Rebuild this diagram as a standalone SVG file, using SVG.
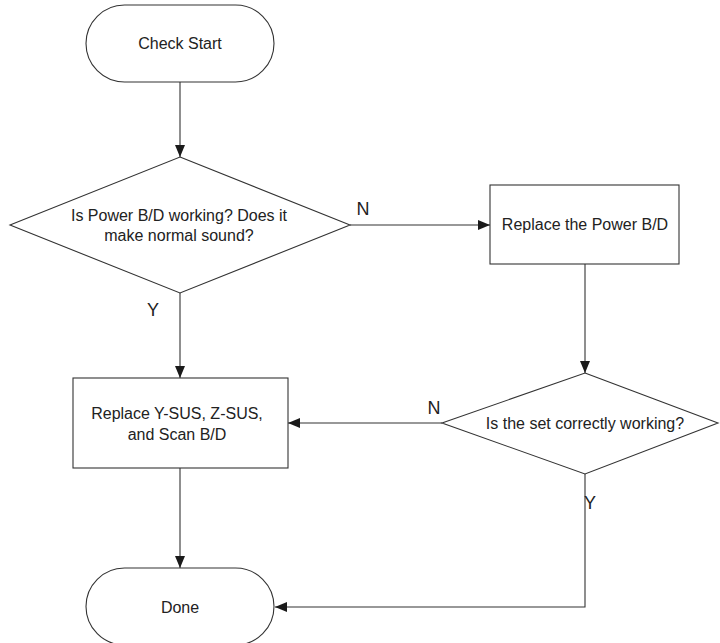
<svg xmlns="http://www.w3.org/2000/svg" width="720" height="643" viewBox="0 0 720 643">
<defs>
<marker id="arr" viewBox="0 0 12 10" refX="12" refY="5" markerWidth="12" markerHeight="10" markerUnits="userSpaceOnUse" orient="auto">
<path d="M0,0 L12,5 L0,10 Z" fill="#1a1a1a"/>
</marker>
<style>
.shape{fill:#fff;stroke:#333;stroke-width:1.1}
.conn{fill:none;stroke:#333;stroke-width:1.1;marker-end:url(#arr)}
.t{font-family:"Liberation Sans",Arial,sans-serif;font-size:16px;fill:#222;text-anchor:middle}
.lbl{font-family:"Liberation Sans",Arial,sans-serif;font-size:18px;fill:#222;text-anchor:middle}
</style>
</defs>
<rect width="720" height="643" fill="#fff"/>
<g id="connectors">
<path class="conn" d="M180,82 L180,157"/>
<path class="conn" d="M350,225 L490,225"/>
<path class="conn" d="M585,264 L585,373"/>
<path class="conn" d="M180,293 L180,378"/>
<path class="conn" d="M442,423 L288,423"/>
<path class="conn" d="M180,468 L180,568"/>
<path class="conn" d="M585,474 L585,607 L275,607"/>
<text class="lbl" x="363" y="215">N</text>
<text class="lbl" x="153" y="316">Y</text>
<text class="lbl" x="434" y="414">N</text>
<text class="lbl" x="590" y="509">Y</text>
</g>
<g id="start">
<rect class="shape" x="86" y="5" width="188" height="77" rx="38.5"/>
<text class="t" x="180" y="49">Check Start</text>
</g>
<g id="decision1">
<polygon class="shape" points="180,157 350,225 180,293 10,225"/>
<text class="t" x="179" y="221">Is Power B/D working? Does it</text>
<text class="t" x="179" y="241">make normal sound?</text>
</g>
<g id="replacePower">
<rect class="shape" x="490" y="185" width="189" height="79"/>
<text class="t" x="585" y="230">Replace the Power B/D</text>
</g>
<g id="decision2">
<polygon class="shape" points="585,373 718,423 585,474 442,423"/>
<text class="t" x="585" y="429">Is the set correctly working?</text>
</g>
<g id="replaceSus">
<rect class="shape" x="73" y="378" width="215" height="90"/>
<text class="t" x="177" y="419">Replace Y-SUS, Z-SUS,</text>
<text class="t" x="177" y="440">and Scan B/D</text>
</g>
<g id="done">
<rect class="shape" x="86" y="568" width="188" height="77" rx="38.5"/>
<text class="t" x="180" y="613">Done</text>
</g>
</svg>
